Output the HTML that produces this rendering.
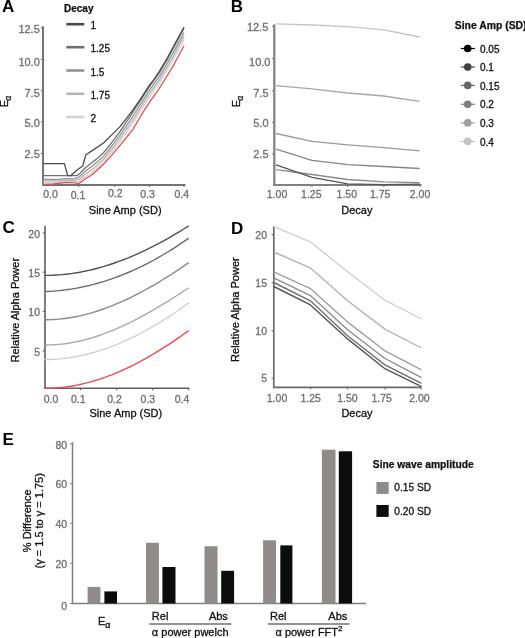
<!DOCTYPE html>
<html><head><meta charset="utf-8"><style>
html,body{margin:0;padding:0;background:#fff;}
body{width:525px;height:638px;overflow:hidden;}
svg{display:block;filter:blur(0.35px);font-family:"Liberation Sans", sans-serif;}
</style></head><body>
<svg width="525" height="638" viewBox="0 0 525 638">
<rect width="525" height="638" fill="#fff"/>
<text x="2.1" y="11.9" font-size="17" font-weight="bold" fill="#000">A</text>
<line x1="43.00" y1="26.20" x2="43.00" y2="185.80" stroke="#747474" stroke-width="2.0"/>
<line x1="42.20" y1="185.00" x2="185.50" y2="185.00" stroke="#747474" stroke-width="2.0"/>
<line x1="40.80" y1="28.00" x2="43.00" y2="28.00" stroke="#747474" stroke-width="1.2"/>
<text x="39.80" y="33.34" font-size="11" fill="#6e6e6e" stroke="#6e6e6e" stroke-width="0.3" text-anchor="end" font-weight="normal" >12.5</text>
<line x1="40.80" y1="59.40" x2="43.00" y2="59.40" stroke="#747474" stroke-width="1.2"/>
<text x="39.80" y="66.24" font-size="11" fill="#6e6e6e" stroke="#6e6e6e" stroke-width="0.3" text-anchor="end" font-weight="normal" >10.0</text>
<line x1="40.80" y1="90.70" x2="43.00" y2="90.70" stroke="#747474" stroke-width="1.2"/>
<text x="39.80" y="96.74" font-size="11" fill="#6e6e6e" stroke="#6e6e6e" stroke-width="0.3" text-anchor="end" font-weight="normal" >7.5</text>
<line x1="40.80" y1="122.10" x2="43.00" y2="122.10" stroke="#747474" stroke-width="1.2"/>
<text x="39.80" y="127.24" font-size="11" fill="#6e6e6e" stroke="#6e6e6e" stroke-width="0.3" text-anchor="end" font-weight="normal" >5.0</text>
<line x1="40.80" y1="153.40" x2="43.00" y2="153.40" stroke="#747474" stroke-width="1.2"/>
<text x="39.80" y="158.24" font-size="11" fill="#6e6e6e" stroke="#6e6e6e" stroke-width="0.3" text-anchor="end" font-weight="normal" >2.5</text>
<line x1="78.60" y1="185.00" x2="78.60" y2="187.00" stroke="#747474" stroke-width="1.2"/>
<line x1="114.40" y1="185.00" x2="114.40" y2="187.00" stroke="#747474" stroke-width="1.2"/>
<line x1="149.50" y1="185.00" x2="149.50" y2="187.00" stroke="#747474" stroke-width="1.2"/>
<line x1="184.00" y1="185.00" x2="184.00" y2="187.00" stroke="#747474" stroke-width="1.2"/>
<text x="50.50" y="197.76" font-size="10.5" fill="#6e6e6e" stroke="#6e6e6e" stroke-width="0.3" text-anchor="middle" font-weight="normal" >0.0</text>
<text x="78.00" y="198.76" font-size="10.5" fill="#6e6e6e" stroke="#6e6e6e" stroke-width="0.3" text-anchor="middle" font-weight="normal" >0.1</text>
<text x="115.20" y="197.36" font-size="10.5" fill="#6e6e6e" stroke="#6e6e6e" stroke-width="0.3" text-anchor="middle" font-weight="normal" >0.2</text>
<text x="147.60" y="197.76" font-size="10.5" fill="#6e6e6e" stroke="#6e6e6e" stroke-width="0.3" text-anchor="middle" font-weight="normal" >0.3</text>
<text x="181.80" y="197.76" font-size="10.5" fill="#6e6e6e" stroke="#6e6e6e" stroke-width="0.3" text-anchor="middle" font-weight="normal" >0.4</text>
<text x="125.20" y="213.94" font-size="11" fill="#111" stroke="#111" stroke-width="0.3" text-anchor="middle" font-weight="normal" >Sine Amp (SD)</text>
<text transform="translate(4.40,101.40) rotate(-90)" x="0" y="3.76" font-size="10.5" fill="#111" stroke="#111" stroke-width="0.3" text-anchor="middle" >E<tspan font-size="8.5" dx="-0.6" dy="3.0">α</tspan></text>
<text x="64.00" y="12.08" font-size="10" fill="#111" stroke="#111" stroke-width="0.25" text-anchor="start" font-weight="bold" >Decay</text>
<line x1="66.30" y1="24.20" x2="84.30" y2="24.20" stroke="#4a4a4a" stroke-width="2.6"/>
<text x="90.50" y="29.28" font-size="10" fill="#111" stroke="#111" stroke-width="0.3" text-anchor="start" font-weight="normal" >1</text>
<line x1="66.30" y1="47.20" x2="84.30" y2="47.20" stroke="#6e6e6e" stroke-width="2.6"/>
<text x="90.50" y="52.28" font-size="10" fill="#111" stroke="#111" stroke-width="0.3" text-anchor="start" font-weight="normal" >1.25</text>
<line x1="66.30" y1="70.50" x2="84.30" y2="70.50" stroke="#939393" stroke-width="2.6"/>
<text x="90.50" y="75.58" font-size="10" fill="#111" stroke="#111" stroke-width="0.3" text-anchor="start" font-weight="normal" >1.5</text>
<line x1="66.30" y1="93.80" x2="84.30" y2="93.80" stroke="#b4b4b4" stroke-width="2.6"/>
<text x="90.50" y="98.88" font-size="10" fill="#111" stroke="#111" stroke-width="0.3" text-anchor="start" font-weight="normal" >1.75</text>
<line x1="66.30" y1="117.00" x2="84.30" y2="117.00" stroke="#d2d2d2" stroke-width="2.6"/>
<text x="90.50" y="122.08" font-size="10" fill="#111" stroke="#111" stroke-width="0.3" text-anchor="start" font-weight="normal" >2</text>
<polyline points="43.30,182.30 44.24,182.30 45.19,182.30 46.13,182.30 47.08,182.30 48.02,182.30 48.97,182.30 49.91,182.30 50.85,182.30 51.80,182.30 52.74,182.30 53.69,182.30 54.63,182.30 55.58,182.30 56.52,182.30 57.46,182.30 58.41,182.25 59.35,182.15 60.30,182.05 61.24,181.95 62.19,181.85 63.13,181.74 64.07,181.64 65.02,181.54 65.96,181.44 66.91,181.37 67.85,181.41 68.80,181.45 69.74,181.50 70.68,181.54 71.63,181.58 72.57,181.62 73.52,181.67 74.46,181.65 75.41,181.69 76.35,181.76 77.29,181.83 78.24,181.91 79.18,181.55 80.13,180.79 81.07,180.03 82.02,179.27 82.96,178.51 83.90,177.74 84.85,176.98 85.79,176.30 86.74,175.72 87.68,175.15 88.63,174.58 89.57,174.00 90.51,173.43 91.46,172.86 92.40,172.10 93.35,171.25 94.29,170.40 95.24,169.55 96.18,168.69 97.12,167.84 98.07,166.99 99.01,166.12 99.96,165.25 100.90,164.36 101.85,163.46 102.79,162.55 103.73,161.59 104.68,160.49 105.62,159.39 106.57,158.27 107.51,157.15 108.46,156.03 109.40,154.89 110.34,153.75 111.29,152.61 112.23,151.40 113.18,150.17 114.12,148.94 115.07,147.71 116.01,146.48 116.96,145.25 117.90,144.03 118.84,142.80 119.79,141.58 120.73,140.29 121.68,138.98 122.62,137.67 123.57,136.37 124.51,135.06 125.45,133.76 126.40,132.47 127.34,131.17 128.29,129.89 129.23,128.60 130.18,127.32 131.12,126.01 132.06,124.71 133.01,123.24 133.95,121.65 134.90,120.07 135.84,118.50 136.79,116.94 137.73,115.40 138.67,113.86 139.62,112.34 140.56,110.78 141.51,109.23 142.45,107.68 143.40,106.13 144.34,104.69 145.28,103.27 146.23,101.84 147.17,100.42 148.12,99.00 149.06,97.57 150.01,96.16 150.95,94.77 151.89,93.41 152.84,92.08 153.78,90.75 154.73,89.42 155.67,88.09 156.62,86.75 157.56,85.42 158.50,84.09 159.45,82.71 160.39,81.19 161.34,79.66 162.28,78.13 163.23,76.58 164.17,75.03 165.11,73.48 166.06,71.93 167.00,70.37 167.95,68.76 168.89,67.15 169.84,65.54 170.78,63.94 171.72,62.33 172.67,60.72 173.61,59.07 174.56,57.31 175.50,55.55 176.45,53.79 177.39,52.03 178.33,50.27 179.28,48.51 180.22,46.75 181.17,44.99 182.11,43.23 183.06,41.48 184.00,39.72" fill="none" stroke="#d3d3d3" stroke-width="1.3" stroke-linejoin="round" />
<polyline points="43.30,180.80 44.24,180.80 45.19,180.80 46.13,180.80 47.08,180.80 48.02,180.80 48.97,180.80 49.91,180.80 50.85,180.80 51.80,180.80 52.74,180.80 53.69,180.80 54.63,180.80 55.58,180.80 56.52,180.80 57.46,180.80 58.41,180.80 59.35,180.80 60.30,180.71 61.24,180.62 62.19,180.53 63.13,180.44 64.07,180.36 65.02,180.27 65.96,180.18 66.91,180.12 67.85,180.16 68.80,180.19 69.74,180.23 70.68,180.27 71.63,180.30 72.57,180.34 73.52,180.38 74.46,180.29 75.41,180.16 76.35,180.07 77.29,179.97 78.24,179.88 79.18,179.42 80.13,178.60 81.07,177.78 82.02,176.96 82.96,176.14 83.90,175.33 84.85,174.51 85.79,173.76 86.74,173.13 87.68,172.52 88.63,171.90 89.57,171.29 90.51,170.67 91.46,170.05 92.40,169.30 93.35,168.47 94.29,167.64 95.24,166.81 96.18,165.98 97.12,165.15 98.07,164.31 99.01,163.47 99.96,162.61 100.90,161.74 101.85,160.85 102.79,159.94 103.73,158.98 104.68,157.88 105.62,156.76 106.57,155.63 107.51,154.49 108.46,153.35 109.40,152.19 110.34,151.03 111.29,149.87 112.23,148.64 113.18,147.40 114.12,146.16 115.07,144.92 116.01,143.68 116.96,142.43 117.90,141.19 118.84,139.96 119.79,138.72 120.73,137.40 121.68,136.04 122.62,134.70 123.57,133.35 124.51,132.00 125.45,130.66 126.40,129.33 127.34,128.00 128.29,126.67 129.23,125.35 130.18,124.04 131.12,122.67 132.06,121.31 133.01,119.84 133.95,118.27 134.90,116.72 135.84,115.18 136.79,113.65 137.73,112.14 138.67,110.65 139.62,109.17 140.56,107.64 141.51,106.12 142.45,104.59 143.40,103.07 144.34,101.63 145.28,100.19 146.23,98.76 147.17,97.33 148.12,95.90 149.06,94.47 150.01,93.05 150.95,91.68 151.89,90.32 152.84,88.99 153.78,87.66 154.73,86.33 155.67,85.00 156.62,83.67 157.56,82.33 158.50,81.00 159.45,79.63 160.39,78.09 161.34,76.55 162.28,75.01 163.23,73.46 164.17,71.90 165.11,70.35 166.06,68.79 167.00,67.21 167.95,65.56 168.89,63.92 169.84,62.28 170.78,60.63 171.72,58.99 172.67,57.35 173.61,55.66 174.56,53.91 175.50,52.15 176.45,50.40 177.39,48.64 178.33,46.89 179.28,45.13 180.22,43.37 181.17,41.62 182.11,39.86 183.06,38.11 184.00,36.35" fill="none" stroke="#b3b3b3" stroke-width="1.3" stroke-linejoin="round" />
<polyline points="43.30,179.30 44.24,179.30 45.19,179.30 46.13,179.30 47.08,179.30 48.02,179.30 48.97,179.30 49.91,179.30 50.85,179.30 51.80,179.30 52.74,179.30 53.69,179.30 54.63,179.30 55.58,179.30 56.52,179.30 57.46,179.30 58.41,179.29 59.35,179.22 60.30,179.15 61.24,179.07 62.19,179.00 63.13,178.93 64.07,178.86 65.02,178.78 65.96,178.71 66.91,178.66 67.85,178.69 68.80,178.72 69.74,178.75 70.68,178.78 71.63,178.81 72.57,178.84 73.52,178.87 74.46,178.70 75.41,178.38 76.35,178.09 77.29,177.80 78.24,177.51 79.18,176.92 80.13,176.04 81.07,175.16 82.02,174.27 82.96,173.39 83.90,172.51 84.85,171.62 85.79,170.80 86.74,170.11 87.68,169.45 88.63,168.78 89.57,168.11 90.51,167.45 91.46,166.78 92.40,166.03 93.35,165.22 94.29,164.42 95.24,163.61 96.18,162.81 97.12,162.00 98.07,161.20 99.01,160.38 99.96,159.54 100.90,158.68 101.85,157.80 102.79,156.91 103.73,155.95 104.68,154.84 105.62,153.71 106.57,152.57 107.51,151.42 108.46,150.25 109.40,149.08 110.34,147.90 111.29,146.72 112.23,145.48 113.18,144.23 114.12,142.98 115.07,141.73 116.01,140.48 116.96,139.23 117.90,137.98 118.84,136.73 119.79,135.49 120.73,134.13 121.68,132.73 122.62,131.34 123.57,129.95 124.51,128.56 125.45,127.18 126.40,125.81 127.34,124.44 128.29,123.07 129.23,121.72 130.18,120.37 131.12,118.95 132.06,117.53 133.01,116.04 133.95,114.50 134.90,112.98 135.84,111.48 136.79,110.00 137.73,108.53 138.67,107.08 139.62,105.65 140.56,104.15 141.51,102.66 142.45,101.16 143.40,99.66 144.34,98.22 145.28,96.78 146.23,95.34 147.17,93.90 148.12,92.45 149.06,91.01 150.01,89.59 150.95,88.24 151.89,86.89 152.84,85.56 153.78,84.23 154.73,82.90 155.67,81.57 156.62,80.23 157.56,78.90 158.50,77.57 159.45,76.20 160.39,74.65 161.34,73.09 162.28,71.54 163.23,69.99 164.17,68.42 165.11,66.86 166.06,65.30 167.00,63.70 167.95,62.02 168.89,60.33 169.84,58.65 170.78,56.96 171.72,55.28 172.67,53.59 173.61,51.88 174.56,50.13 175.50,48.38 176.45,46.63 177.39,44.88 178.33,43.12 179.28,41.37 180.22,39.62 181.17,37.87 182.11,36.11 183.06,34.36 184.00,32.61" fill="none" stroke="#939393" stroke-width="1.3" stroke-linejoin="round" />
<polyline points="43.30,175.70 44.24,175.70 45.19,175.70 46.13,175.70 47.08,175.70 48.02,175.70 48.97,175.70 49.91,175.70 50.85,175.70 51.80,175.70 52.74,175.70 53.69,175.70 54.63,175.70 55.58,175.70 56.52,175.70 57.46,175.70 58.41,175.70 59.35,175.70 60.30,175.70 61.24,175.70 62.19,175.70 63.13,175.70 64.07,175.70 65.02,175.70 65.96,175.70 66.91,175.70 67.85,175.70 68.80,175.70 69.74,175.70 70.68,175.70 71.63,175.70 72.57,175.70 73.52,175.70 74.46,175.70 75.41,175.70 76.35,175.70 77.29,175.32 78.24,174.81 79.18,174.07 80.13,173.11 81.07,172.16 82.02,171.20 82.96,170.24 83.90,169.29 84.85,168.33 85.79,167.42 86.74,166.66 87.68,165.94 88.63,165.21 89.57,164.49 90.51,163.76 91.46,163.04 92.40,162.28 93.35,161.51 94.29,160.73 95.24,159.96 96.18,159.18 97.12,158.41 98.07,157.63 99.01,156.84 99.96,156.03 100.90,155.19 101.85,154.33 102.79,153.45 103.73,152.50 104.68,151.38 105.62,150.24 106.57,149.09 107.51,147.92 108.46,146.75 109.40,145.56 110.34,144.36 111.29,143.15 112.23,141.91 113.18,140.66 114.12,139.41 115.07,138.15 116.01,136.89 116.96,135.63 117.90,134.38 118.84,133.12 119.79,131.88 120.73,130.48 121.68,129.04 122.62,127.61 123.57,126.17 124.51,124.75 125.45,123.32 126.40,121.91 127.34,120.50 128.29,119.09 129.23,117.70 130.18,116.32 131.12,114.83 132.06,113.35 133.01,111.85 133.95,110.35 134.90,108.87 135.84,107.41 136.79,105.97 137.73,104.56 138.67,103.16 139.62,101.78 140.56,100.31 141.51,98.85 142.45,97.38 143.40,95.92 144.34,94.47 145.28,93.02 146.23,91.57 147.17,90.12 148.12,88.67 149.06,87.22 150.01,85.79 150.95,84.45 151.89,83.12 152.84,81.79 153.78,80.46 154.73,79.12 155.67,77.79 156.62,76.46 157.56,75.13 158.50,73.80 159.45,72.43 160.39,70.86 161.34,69.30 162.28,67.73 163.23,66.16 164.17,64.60 165.11,63.03 166.06,61.46 167.00,59.84 167.95,58.11 168.89,56.38 169.84,54.65 170.78,52.92 171.72,51.19 172.67,49.46 173.61,47.73 174.56,45.98 175.50,44.23 176.45,42.48 177.39,40.73 178.33,38.98 179.28,37.24 180.22,35.49 181.17,33.74 182.11,31.99 183.06,30.24 184.00,28.50" fill="none" stroke="#707070" stroke-width="1.3" stroke-linejoin="round" />
<polyline points="43.30,163.70 64.40,163.70 67.70,175.70 70.70,175.70 74.70,172.00 78.70,168.70 82.70,166.00 85.90,154.80 91.80,150.90 103.50,143.00 114.50,132.10 120.00,126.60 130.20,113.70 139.60,100.40 149.80,84.70 153.30,80.30 159.30,71.30 166.70,59.00 184.00,27.00" fill="none" stroke="#4d4d4d" stroke-width="1.3" stroke-linejoin="round" />
<polyline points="43.30,184.50 53.30,184.00 66.70,182.40 74.70,182.80 78.70,183.70 85.30,178.70 91.80,175.00 103.50,164.20 111.40,155.60 120.00,145.40 132.50,130.00 143.50,111.40 151.40,99.60 159.20,88.60 162.70,83.00 173.30,65.70 184.00,45.70" fill="none" stroke="#ec4b55" stroke-width="1.3" stroke-linejoin="round" />
<text x="230.7" y="11.9" font-size="17" font-weight="bold" fill="#000">B</text>
<line x1="274.30" y1="24.30" x2="274.30" y2="185.80" stroke="#808080" stroke-width="2.2"/>
<line x1="273.50" y1="185.00" x2="421.50" y2="185.00" stroke="#808080" stroke-width="2.2"/>
<line x1="272.10" y1="26.40" x2="274.30" y2="26.40" stroke="#808080" stroke-width="1.2"/>
<text x="268.30" y="30.94" font-size="11" fill="#6e6e6e" stroke="#6e6e6e" stroke-width="0.3" text-anchor="end" font-weight="normal" >12.5</text>
<line x1="272.10" y1="58.60" x2="274.30" y2="58.60" stroke="#808080" stroke-width="1.2"/>
<text x="270.50" y="66.24" font-size="11" fill="#6e6e6e" stroke="#6e6e6e" stroke-width="0.3" text-anchor="end" font-weight="normal" >10.0</text>
<line x1="272.10" y1="90.70" x2="274.30" y2="90.70" stroke="#808080" stroke-width="1.2"/>
<text x="268.50" y="96.74" font-size="11" fill="#6e6e6e" stroke="#6e6e6e" stroke-width="0.3" text-anchor="end" font-weight="normal" >7.5</text>
<line x1="272.10" y1="122.40" x2="274.30" y2="122.40" stroke="#808080" stroke-width="1.2"/>
<text x="268.50" y="127.24" font-size="11" fill="#6e6e6e" stroke="#6e6e6e" stroke-width="0.3" text-anchor="end" font-weight="normal" >5.0</text>
<line x1="272.10" y1="153.80" x2="274.30" y2="153.80" stroke="#808080" stroke-width="1.2"/>
<text x="268.50" y="158.24" font-size="11" fill="#6e6e6e" stroke="#6e6e6e" stroke-width="0.3" text-anchor="end" font-weight="normal" >2.5</text>
<line x1="311.90" y1="185.00" x2="311.90" y2="187.00" stroke="#808080" stroke-width="1.2"/>
<line x1="347.80" y1="185.00" x2="347.80" y2="187.00" stroke="#808080" stroke-width="1.2"/>
<line x1="383.80" y1="185.00" x2="383.80" y2="187.00" stroke="#808080" stroke-width="1.2"/>
<line x1="419.80" y1="185.00" x2="419.80" y2="187.00" stroke="#808080" stroke-width="1.2"/>
<text x="277.00" y="197.76" font-size="10.5" fill="#6e6e6e" stroke="#6e6e6e" stroke-width="0.3" text-anchor="middle" font-weight="normal" >1.00</text>
<text x="311.30" y="197.76" font-size="10.5" fill="#6e6e6e" stroke="#6e6e6e" stroke-width="0.3" text-anchor="middle" font-weight="normal" >1.25</text>
<text x="346.80" y="197.76" font-size="10.5" fill="#6e6e6e" stroke="#6e6e6e" stroke-width="0.3" text-anchor="middle" font-weight="normal" >1.50</text>
<text x="380.20" y="197.76" font-size="10.5" fill="#6e6e6e" stroke="#6e6e6e" stroke-width="0.3" text-anchor="middle" font-weight="normal" >1.75</text>
<text x="420.00" y="197.76" font-size="10.5" fill="#6e6e6e" stroke="#6e6e6e" stroke-width="0.3" text-anchor="middle" font-weight="normal" >2.00</text>
<text x="356.80" y="213.94" font-size="11" fill="#111" stroke="#111" stroke-width="0.3" text-anchor="middle" font-weight="normal" >Decay</text>
<text transform="translate(236.00,101.40) rotate(-90)" x="0" y="3.76" font-size="10.5" fill="#111" stroke="#111" stroke-width="0.3" text-anchor="middle" >E<tspan font-size="8.5" dx="-0.6" dy="3.0">α</tspan></text>
<polyline points="276.00,23.80 312.00,25.00 347.60,26.60 383.80,29.80 419.60,37.00" fill="none" stroke="#c4c4c4" stroke-width="1.35" stroke-linejoin="round" />
<polyline points="276.00,85.70 312.00,88.90 347.60,93.00 383.80,96.00 419.60,101.40" fill="none" stroke="#a6a6a6" stroke-width="1.35" stroke-linejoin="round" />
<polyline points="276.00,133.50 312.00,141.30 347.60,144.80 383.80,147.60 419.60,150.80" fill="none" stroke="#9a9a9a" stroke-width="1.35" stroke-linejoin="round" />
<polyline points="276.00,149.10 312.00,160.40 347.60,164.60 383.80,166.50 419.60,168.50" fill="none" stroke="#868686" stroke-width="1.35" stroke-linejoin="round" />
<polyline points="276.00,169.70 312.00,174.50 347.60,179.50 383.80,181.80 419.60,182.60" fill="none" stroke="#8a8a8a" stroke-width="1.35" stroke-linejoin="round" />
<polyline points="276.00,164.80 312.00,177.40 347.60,183.80 383.80,184.60 419.60,184.20" fill="none" stroke="#555555" stroke-width="1.35" stroke-linejoin="round" />
<text x="454.80" y="28.92" font-size="10.4" fill="#111" stroke="#111" stroke-width="0.25" text-anchor="start" font-weight="bold" >Sine Amp (SD)</text>
<line x1="460.90" y1="48.50" x2="474.90" y2="48.50" stroke="#000000" stroke-width="1.2"/>
<circle cx="467.7" cy="48.5" r="3.8" fill="#000000"/>
<text x="480.00" y="52.68" font-size="10" fill="#111" stroke="#111" stroke-width="0.3" text-anchor="start" font-weight="normal" >0.05</text>
<line x1="460.90" y1="67.00" x2="474.90" y2="67.00" stroke="#404040" stroke-width="1.2"/>
<circle cx="467.7" cy="67.0" r="3.8" fill="#404040"/>
<text x="480.00" y="71.18" font-size="10" fill="#111" stroke="#111" stroke-width="0.3" text-anchor="start" font-weight="normal" >0.1</text>
<line x1="460.90" y1="85.40" x2="474.90" y2="85.40" stroke="#666666" stroke-width="1.2"/>
<circle cx="467.7" cy="85.4" r="3.8" fill="#666666"/>
<text x="480.00" y="89.58" font-size="10" fill="#111" stroke="#111" stroke-width="0.3" text-anchor="start" font-weight="normal" >0.15</text>
<line x1="460.90" y1="104.30" x2="474.90" y2="104.30" stroke="#7f7f7f" stroke-width="1.2"/>
<circle cx="467.7" cy="104.3" r="3.8" fill="#7f7f7f"/>
<text x="480.00" y="108.48" font-size="10" fill="#111" stroke="#111" stroke-width="0.3" text-anchor="start" font-weight="normal" >0.2</text>
<line x1="460.90" y1="122.90" x2="474.90" y2="122.90" stroke="#9f9f9f" stroke-width="1.2"/>
<circle cx="467.7" cy="122.9" r="3.8" fill="#9f9f9f"/>
<text x="480.00" y="127.08" font-size="10" fill="#111" stroke="#111" stroke-width="0.3" text-anchor="start" font-weight="normal" >0.3</text>
<line x1="460.90" y1="141.40" x2="474.90" y2="141.40" stroke="#c2c2c2" stroke-width="1.2"/>
<circle cx="467.7" cy="141.4" r="3.8" fill="#c2c2c2"/>
<text x="480.00" y="145.58" font-size="10" fill="#111" stroke="#111" stroke-width="0.3" text-anchor="start" font-weight="normal" >0.4</text>
<text x="2.4" y="233.4" font-size="17" font-weight="bold" fill="#000">C</text>
<line x1="45.00" y1="225.70" x2="45.00" y2="389.10" stroke="#5e5e5e" stroke-width="1.6"/>
<line x1="44.20" y1="388.30" x2="189.30" y2="388.30" stroke="#5e5e5e" stroke-width="1.6"/>
<line x1="42.80" y1="233.00" x2="45.00" y2="233.00" stroke="#5e5e5e" stroke-width="1.1"/>
<text x="40.00" y="237.76" font-size="10.5" fill="#6e6e6e" stroke="#6e6e6e" stroke-width="0.3" text-anchor="end" font-weight="normal" >20</text>
<line x1="42.80" y1="272.10" x2="45.00" y2="272.10" stroke="#5e5e5e" stroke-width="1.1"/>
<text x="40.00" y="277.26" font-size="10.5" fill="#6e6e6e" stroke="#6e6e6e" stroke-width="0.3" text-anchor="end" font-weight="normal" >15</text>
<line x1="42.80" y1="311.40" x2="45.00" y2="311.40" stroke="#5e5e5e" stroke-width="1.1"/>
<text x="40.00" y="316.06" font-size="10.5" fill="#6e6e6e" stroke="#6e6e6e" stroke-width="0.3" text-anchor="end" font-weight="normal" >10</text>
<line x1="42.80" y1="351.00" x2="45.00" y2="351.00" stroke="#5e5e5e" stroke-width="1.1"/>
<text x="40.00" y="355.76" font-size="10.5" fill="#6e6e6e" stroke="#6e6e6e" stroke-width="0.3" text-anchor="end" font-weight="normal" >5</text>
<line x1="80.50" y1="388.30" x2="80.50" y2="390.30" stroke="#5e5e5e" stroke-width="1.1"/>
<line x1="116.80" y1="388.30" x2="116.80" y2="390.30" stroke="#5e5e5e" stroke-width="1.1"/>
<line x1="152.80" y1="388.30" x2="152.80" y2="390.30" stroke="#5e5e5e" stroke-width="1.1"/>
<line x1="188.70" y1="388.30" x2="188.70" y2="390.30" stroke="#5e5e5e" stroke-width="1.1"/>
<text x="51.00" y="402.76" font-size="10.5" fill="#6e6e6e" stroke="#6e6e6e" stroke-width="0.3" text-anchor="middle" font-weight="normal" >0.0</text>
<text x="78.20" y="402.76" font-size="10.5" fill="#6e6e6e" stroke="#6e6e6e" stroke-width="0.3" text-anchor="middle" font-weight="normal" >0.1</text>
<text x="114.60" y="402.76" font-size="10.5" fill="#6e6e6e" stroke="#6e6e6e" stroke-width="0.3" text-anchor="middle" font-weight="normal" >0.2</text>
<text x="147.90" y="402.76" font-size="10.5" fill="#6e6e6e" stroke="#6e6e6e" stroke-width="0.3" text-anchor="middle" font-weight="normal" >0.3</text>
<text x="182.10" y="402.76" font-size="10.5" fill="#6e6e6e" stroke="#6e6e6e" stroke-width="0.3" text-anchor="middle" font-weight="normal" >0.4</text>
<text x="125.80" y="417.14" font-size="11" fill="#111" stroke="#111" stroke-width="0.3" text-anchor="middle" font-weight="normal" >Sine Amp (SD)</text>
<text transform="translate(15.30,310.20) rotate(-90)" x="0" y="3.94" font-size="11" fill="#111" stroke="#111" stroke-width="0.3" text-anchor="middle" >Relative Alpha Power</text>
<polyline points="44.60,388.21 47.54,388.22 50.49,388.17 53.43,388.06 56.37,387.89 59.31,387.66 62.26,387.38 65.20,387.05 68.14,386.66 71.09,386.21 74.03,385.71 76.97,385.16 79.91,384.55 82.86,383.89 85.80,383.18 88.74,382.42 91.69,381.61 94.63,380.75 97.57,379.84 100.51,378.88 103.46,377.87 106.40,376.82 109.34,375.71 112.29,374.57 115.23,373.37 118.17,372.14 121.11,370.85 124.06,369.53 127.00,368.16 129.94,366.75 132.89,365.29 135.83,363.80 138.77,362.26 141.71,360.69 144.66,359.07 147.60,357.41 150.54,355.72 153.49,353.99 156.43,352.22 159.37,350.42 162.31,348.58 165.26,346.70 168.20,344.79 171.14,342.85 174.09,340.87 177.03,338.86 179.97,336.82 182.91,334.74 185.86,332.64 188.80,330.50" fill="none" stroke="#ec4b55" stroke-width="1.4" stroke-linejoin="round" />
<polyline points="44.60,359.53 47.54,359.51 50.49,359.43 53.43,359.30 56.37,359.11 59.31,358.88 62.26,358.59 65.20,358.25 68.14,357.86 71.09,357.42 74.03,356.94 76.97,356.40 79.91,355.81 82.86,355.17 85.80,354.48 88.74,353.75 91.69,352.97 94.63,352.14 97.57,351.26 100.51,350.34 103.46,349.37 106.40,348.36 109.34,347.30 112.29,346.19 115.23,345.04 118.17,343.85 121.11,342.61 124.06,341.33 127.00,340.00 129.94,338.64 132.89,337.23 135.83,335.77 138.77,334.28 141.71,332.75 144.66,331.17 147.60,329.55 150.54,327.90 153.49,326.20 156.43,324.47 159.37,322.69 162.31,320.88 165.26,319.03 168.20,317.14 171.14,315.22 174.09,313.26 177.03,311.26 179.97,309.22 182.91,307.15 185.86,305.05 188.80,302.90" fill="none" stroke="#d0d0d0" stroke-width="1.4" stroke-linejoin="round" />
<polyline points="44.60,344.92 47.54,344.94 50.49,344.89 53.43,344.78 56.37,344.61 59.31,344.37 62.26,344.07 65.20,343.70 68.14,343.28 71.09,342.80 74.03,342.26 76.97,341.67 79.91,341.02 82.86,340.31 85.80,339.56 88.74,338.75 91.69,337.88 94.63,336.97 97.57,336.01 100.51,335.00 103.46,333.95 106.40,332.85 109.34,331.70 112.29,330.51 115.23,329.28 118.17,328.01 121.11,326.69 124.06,325.34 127.00,323.95 129.94,322.52 132.89,321.05 135.83,319.56 138.77,318.02 141.71,316.45 144.66,314.86 147.60,313.23 150.54,311.57 153.49,309.88 156.43,308.17 159.37,306.43 162.31,304.66 165.26,302.87 168.20,301.05 171.14,299.22 174.09,297.36 177.03,295.48 179.97,293.59 182.91,291.67 185.86,289.74 188.80,287.80" fill="none" stroke="#ababab" stroke-width="1.4" stroke-linejoin="round" />
<polyline points="44.60,319.75 47.54,319.74 50.49,319.67 53.43,319.54 56.37,319.35 59.31,319.11 62.26,318.81 65.20,318.45 68.14,318.03 71.09,317.56 74.03,317.04 76.97,316.46 79.91,315.83 82.86,315.15 85.80,314.42 88.74,313.64 91.69,312.81 94.63,311.93 97.57,311.00 100.51,310.02 103.46,309.00 106.40,307.93 109.34,306.82 112.29,305.66 115.23,304.46 118.17,303.22 121.11,301.94 124.06,300.61 127.00,299.25 129.94,297.84 132.89,296.40 135.83,294.92 138.77,293.40 141.71,291.85 144.66,290.25 147.60,288.63 150.54,286.97 153.49,285.28 156.43,283.55 159.37,281.80 162.31,280.01 165.26,278.19 168.20,276.35 171.14,274.47 174.09,272.57 177.03,270.64 179.97,268.68 182.91,266.70 185.86,264.69 188.80,262.66" fill="none" stroke="#8a8a8a" stroke-width="1.4" stroke-linejoin="round" />
<polyline points="44.60,291.60 47.54,291.49 50.49,291.33 53.43,291.13 56.37,290.89 59.31,290.61 62.26,290.29 65.20,289.93 68.14,289.53 71.09,289.09 74.03,288.61 76.97,288.09 79.91,287.53 82.86,286.92 85.80,286.28 88.74,285.59 91.69,284.87 94.63,284.10 97.57,283.30 100.51,282.45 103.46,281.56 106.40,280.64 109.34,279.67 112.29,278.66 115.23,277.61 118.17,276.52 121.11,275.38 124.06,274.21 127.00,273.00 129.94,271.74 132.89,270.45 135.83,269.12 138.77,267.74 141.71,266.32 144.66,264.86 147.60,263.37 150.54,261.83 153.49,260.25 156.43,258.63 159.37,256.96 162.31,255.26 165.26,253.52 168.20,251.73 171.14,249.91 174.09,248.04 177.03,246.14 179.97,244.19 182.91,242.20 185.86,240.17 188.80,238.10" fill="none" stroke="#6c6c6c" stroke-width="1.4" stroke-linejoin="round" />
<polyline points="44.60,275.41 47.54,275.40 50.49,275.33 53.43,275.22 56.37,275.07 59.31,274.87 62.26,274.62 65.20,274.32 68.14,273.99 71.09,273.60 74.03,273.18 76.97,272.71 79.91,272.19 82.86,271.64 85.80,271.04 88.74,270.39 91.69,269.71 94.63,268.98 97.57,268.21 100.51,267.41 103.46,266.56 106.40,265.67 109.34,264.74 112.29,263.77 115.23,262.76 118.17,261.71 121.11,260.62 124.06,259.50 127.00,258.34 129.94,257.14 132.89,255.90 135.83,254.63 138.77,253.32 141.71,251.97 144.66,250.59 147.60,249.17 150.54,247.72 153.49,246.23 156.43,244.71 159.37,243.15 162.31,241.56 165.26,239.94 168.20,238.28 171.14,236.59 174.09,234.87 177.03,233.12 179.97,231.34 182.91,229.52 185.86,227.67 188.80,225.80" fill="none" stroke="#525252" stroke-width="1.4" stroke-linejoin="round" />
<text x="230.9" y="233.5" font-size="17" font-weight="bold" fill="#000">D</text>
<line x1="273.80" y1="226.40" x2="273.80" y2="388.20" stroke="#6a6a6a" stroke-width="1.7"/>
<line x1="273.00" y1="387.40" x2="421.50" y2="387.40" stroke="#6a6a6a" stroke-width="1.7"/>
<line x1="271.60" y1="234.80" x2="273.80" y2="234.80" stroke="#6a6a6a" stroke-width="1.1"/>
<text x="267.00" y="238.76" font-size="10.5" fill="#6e6e6e" stroke="#6e6e6e" stroke-width="0.3" text-anchor="end" font-weight="normal" >20</text>
<line x1="271.60" y1="282.80" x2="273.80" y2="282.80" stroke="#6a6a6a" stroke-width="1.1"/>
<text x="267.00" y="286.76" font-size="10.5" fill="#6e6e6e" stroke="#6e6e6e" stroke-width="0.3" text-anchor="end" font-weight="normal" >15</text>
<line x1="271.60" y1="330.90" x2="273.80" y2="330.90" stroke="#6a6a6a" stroke-width="1.1"/>
<text x="267.00" y="334.86" font-size="10.5" fill="#6e6e6e" stroke="#6e6e6e" stroke-width="0.3" text-anchor="end" font-weight="normal" >10</text>
<line x1="271.60" y1="378.20" x2="273.80" y2="378.20" stroke="#6a6a6a" stroke-width="1.1"/>
<text x="267.00" y="382.16" font-size="10.5" fill="#6e6e6e" stroke="#6e6e6e" stroke-width="0.3" text-anchor="end" font-weight="normal" >5</text>
<line x1="310.50" y1="387.40" x2="310.50" y2="389.40" stroke="#6a6a6a" stroke-width="1.1"/>
<line x1="347.50" y1="387.40" x2="347.50" y2="389.40" stroke="#6a6a6a" stroke-width="1.1"/>
<line x1="385.00" y1="387.40" x2="385.00" y2="389.40" stroke="#6a6a6a" stroke-width="1.1"/>
<line x1="421.00" y1="387.40" x2="421.00" y2="389.40" stroke="#6a6a6a" stroke-width="1.1"/>
<text x="277.00" y="402.46" font-size="10.5" fill="#6e6e6e" stroke="#6e6e6e" stroke-width="0.3" text-anchor="middle" font-weight="normal" >1.00</text>
<text x="310.70" y="402.46" font-size="10.5" fill="#6e6e6e" stroke="#6e6e6e" stroke-width="0.3" text-anchor="middle" font-weight="normal" >1.25</text>
<text x="347.40" y="402.46" font-size="10.5" fill="#6e6e6e" stroke="#6e6e6e" stroke-width="0.3" text-anchor="middle" font-weight="normal" >1.50</text>
<text x="381.70" y="402.46" font-size="10.5" fill="#6e6e6e" stroke="#6e6e6e" stroke-width="0.3" text-anchor="middle" font-weight="normal" >1.75</text>
<text x="419.40" y="402.46" font-size="10.5" fill="#6e6e6e" stroke="#6e6e6e" stroke-width="0.3" text-anchor="middle" font-weight="normal" >2.00</text>
<text x="357.00" y="417.04" font-size="11" fill="#111" stroke="#111" stroke-width="0.3" text-anchor="middle" font-weight="normal" >Decay</text>
<text transform="translate(235.20,309.60) rotate(-90)" x="0" y="3.94" font-size="11" fill="#111" stroke="#111" stroke-width="0.3" text-anchor="middle" >Relative Alpha Power</text>
<polyline points="273.80,226.70 310.40,241.90 347.60,271.80 384.90,300.20 421.50,319.00" fill="none" stroke="#d0d0d0" stroke-width="1.4" stroke-linejoin="round" />
<polyline points="273.80,252.00 310.40,267.90 347.60,300.80 384.90,329.10 421.50,348.00" fill="none" stroke="#b4b4b4" stroke-width="1.4" stroke-linejoin="round" />
<polyline points="273.80,271.80 310.40,288.60 347.60,322.10 384.90,350.80 421.50,369.80" fill="none" stroke="#9e9e9e" stroke-width="1.4" stroke-linejoin="round" />
<polyline points="273.80,277.90 310.40,295.60 347.60,329.70 384.90,358.50 421.50,377.70" fill="none" stroke="#8c8c8c" stroke-width="1.4" stroke-linejoin="round" />
<polyline points="273.80,282.50 310.40,300.80 347.60,335.80 384.90,364.90 421.50,383.30" fill="none" stroke="#707070" stroke-width="1.4" stroke-linejoin="round" />
<polyline points="273.80,286.50 310.40,304.90 347.60,338.90 384.90,368.70 421.50,386.70" fill="none" stroke="#555555" stroke-width="1.4" stroke-linejoin="round" />
<text x="2.5" y="444.7" font-size="17" font-weight="bold" fill="#000">E</text>
<line x1="72.50" y1="442.10" x2="72.50" y2="604.20" stroke="#808080" stroke-width="1.5"/>
<line x1="71.80" y1="603.50" x2="366.00" y2="603.50" stroke="#808080" stroke-width="1.5"/>
<line x1="70.00" y1="443.90" x2="72.50" y2="443.90" stroke="#808080" stroke-width="1.0"/>
<text x="67.20" y="449.06" font-size="10.5" fill="#6e6e6e" stroke="#6e6e6e" stroke-width="0.3" text-anchor="end" font-weight="normal" >80</text>
<line x1="70.00" y1="483.60" x2="72.50" y2="483.60" stroke="#808080" stroke-width="1.0"/>
<text x="67.20" y="488.26" font-size="10.5" fill="#6e6e6e" stroke="#6e6e6e" stroke-width="0.3" text-anchor="end" font-weight="normal" >60</text>
<line x1="70.00" y1="523.40" x2="72.50" y2="523.40" stroke="#808080" stroke-width="1.0"/>
<text x="67.20" y="527.76" font-size="10.5" fill="#6e6e6e" stroke="#6e6e6e" stroke-width="0.3" text-anchor="end" font-weight="normal" >40</text>
<line x1="70.00" y1="563.40" x2="72.50" y2="563.40" stroke="#808080" stroke-width="1.0"/>
<text x="67.20" y="567.56" font-size="10.5" fill="#6e6e6e" stroke="#6e6e6e" stroke-width="0.3" text-anchor="end" font-weight="normal" >20</text>
<line x1="70.00" y1="603.50" x2="72.50" y2="603.50" stroke="#808080" stroke-width="1.0"/>
<text x="67.20" y="609.76" font-size="10.5" fill="#6e6e6e" stroke="#6e6e6e" stroke-width="0.3" text-anchor="end" font-weight="normal" >0</text>
<rect x="87.60" y="586.90" width="12.80" height="16.60" fill="#8f8b8a"/>
<rect x="104.40" y="591.40" width="12.60" height="12.10" fill="#0c0c0c"/>
<rect x="146.00" y="542.80" width="12.90" height="60.70" fill="#8f8b8a"/>
<rect x="162.40" y="567.00" width="13.10" height="36.50" fill="#0c0c0c"/>
<rect x="204.50" y="546.20" width="13.00" height="57.30" fill="#8f8b8a"/>
<rect x="221.20" y="570.80" width="12.90" height="32.70" fill="#0c0c0c"/>
<rect x="263.10" y="540.30" width="12.90" height="63.20" fill="#8f8b8a"/>
<rect x="280.30" y="545.40" width="12.10" height="58.10" fill="#0c0c0c"/>
<rect x="321.90" y="449.70" width="13.60" height="153.80" fill="#8f8b8a"/>
<rect x="338.80" y="451.30" width="13.30" height="152.20" fill="#0c0c0c"/>
<text x="104.20" y="625.04" font-size="11" fill="#111" stroke="#111" stroke-width="0.3" text-anchor="middle" font-weight="normal" >E<tspan font-size="9" dy="2.6">α</tspan></text>
<text x="160.10" y="620.24" font-size="11" fill="#111" stroke="#111" stroke-width="0.3" text-anchor="middle" font-weight="normal" >Rel</text>
<text x="218.40" y="620.24" font-size="11" fill="#111" stroke="#111" stroke-width="0.3" text-anchor="middle" font-weight="normal" >Abs</text>
<text x="278.30" y="620.24" font-size="11" fill="#111" stroke="#111" stroke-width="0.3" text-anchor="middle" font-weight="normal" >Rel</text>
<text x="337.80" y="620.24" font-size="11" fill="#111" stroke="#111" stroke-width="0.3" text-anchor="middle" font-weight="normal" >Abs</text>
<line x1="149.20" y1="624.00" x2="231.40" y2="624.00" stroke="#707070" stroke-width="1.3"/>
<line x1="267.80" y1="624.00" x2="349.60" y2="624.00" stroke="#707070" stroke-width="1.3"/>
<text x="190.20" y="636.24" font-size="11" fill="#111" stroke="#111" stroke-width="0.3" text-anchor="middle" font-weight="normal" >α power pwelch</text>
<text x="309.00" y="636.24" font-size="11" fill="#111" stroke="#111" stroke-width="0.3" text-anchor="middle" font-weight="normal" >α power FFT<tspan font-size="8" dy="-5">2</tspan></text>
<text transform="translate(26.80,520.80) rotate(-90)" x="0" y="3.94" font-size="11" fill="#111" stroke="#111" stroke-width="0.3" text-anchor="middle" >% Difference</text>
<text transform="translate(39.00,520.80) rotate(-90)" x="0" y="3.94" font-size="11" fill="#111" stroke="#111" stroke-width="0.3" text-anchor="middle" >(γ = 1.5 to γ = 1.75)</text>
<text x="372.80" y="467.87" font-size="10.25" fill="#111" stroke="#111" stroke-width="0.25" text-anchor="start" font-weight="bold" >Sine wave amplitude</text>
<rect x="376.4" y="482.0" width="12.3" height="11.9" fill="#8f8b8a"/>
<rect x="376.4" y="505.0" width="12.3" height="11.9" fill="#0c0c0c"/>
<text x="394.30" y="491.05" font-size="10.2" fill="#111" stroke="#111" stroke-width="0.3" text-anchor="start" font-weight="normal" >0.15 SD</text>
<text x="394.30" y="515.15" font-size="10.2" fill="#111" stroke="#111" stroke-width="0.3" text-anchor="start" font-weight="normal" >0.20 SD</text>
</svg>
</body></html>
